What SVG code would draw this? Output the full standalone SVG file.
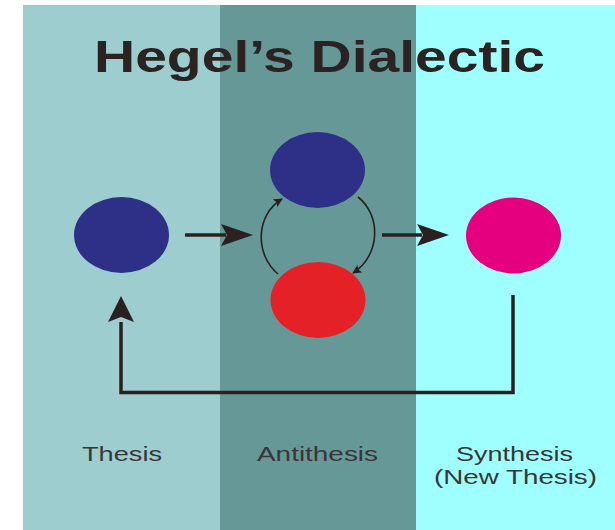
<svg xmlns="http://www.w3.org/2000/svg" width="615" height="530" viewBox="0 0 615 530">
<style>
.lbl{font-family:"Liberation Sans",Arial,sans-serif;font-size:20px;fill:#3a3536;text-anchor:middle}
.title{font-family:"Liberation Sans",Arial,sans-serif;font-size:44px;font-weight:bold;fill:#2b2222}
.thick{fill:none;stroke:#2b2020;stroke-width:3.5}
.thin{fill:none;stroke:#2b2020;stroke-width:1.6}
</style>
<defs>
<marker id="small" viewBox="0 0 10 10" refX="9" refY="5" markerWidth="9" markerHeight="9" markerUnits="userSpaceOnUse" orient="auto">
<path d="M0,0 L10,5 L0,10 L2,5 Z" fill="#2b2020"/>
</marker>
</defs>
<rect width="615" height="530" fill="#ffffff"/>
<rect x="23" y="5" width="197" height="525" fill="#9dcdcf"/>
<rect x="220" y="5" width="196" height="525" fill="#669898"/>
<rect x="416" y="5" width="199" height="525" fill="#9ffffe"/>
<text class="title" x="94" y="72" textLength="451" lengthAdjust="spacingAndGlyphs">Hegel’s Dialectic</text>
<g id="connectors">
<line class="thick" x1="185" y1="235" x2="226" y2="235"/>
<path d="M253,235 L221,224 L227,235 L221,246 Z" fill="#2b2020"/>
<line class="thick" x1="382" y1="235" x2="422" y2="235"/>
<path d="M449,235 L417,224 L423,235 L417,246 Z" fill="#2b2020"/>
<path class="thick" d="M513,295 L513,392.5 L121,392.5 L121,322"/>
<path d="M121,296 L108,322 L121,317 L134,322 Z" fill="#2b2020"/>
<path class="thin" d="M278,274 C255,255 255,215 282,199" marker-end="url(#small)"/>
<path class="thin" d="M358,197 C381,215 381,255 353,273" marker-end="url(#small)"/>
</g>
<g id="thesis"><ellipse cx="121.5" cy="235" rx="47.5" ry="38" fill="#2e3088"/></g>
<g id="antithesis-top"><ellipse cx="317.5" cy="170" rx="47.5" ry="38" fill="#2e3088"/></g>
<g id="antithesis-bottom"><ellipse cx="318" cy="300" rx="47.5" ry="38" fill="#e52128"/></g>
<g id="synthesis"><ellipse cx="513.5" cy="235.5" rx="47.5" ry="38" fill="#e4007f"/></g>
<text class="lbl" x="122" y="461" textLength="80" lengthAdjust="spacingAndGlyphs">Thesis</text>
<text class="lbl" x="317.5" y="461" textLength="121" lengthAdjust="spacingAndGlyphs">Antithesis</text>
<text class="lbl" x="514.5" y="461" textLength="117" lengthAdjust="spacingAndGlyphs">Synthesis</text>
<text class="lbl" x="515.5" y="484" textLength="163" lengthAdjust="spacingAndGlyphs">(New Thesis)</text>
</svg>
